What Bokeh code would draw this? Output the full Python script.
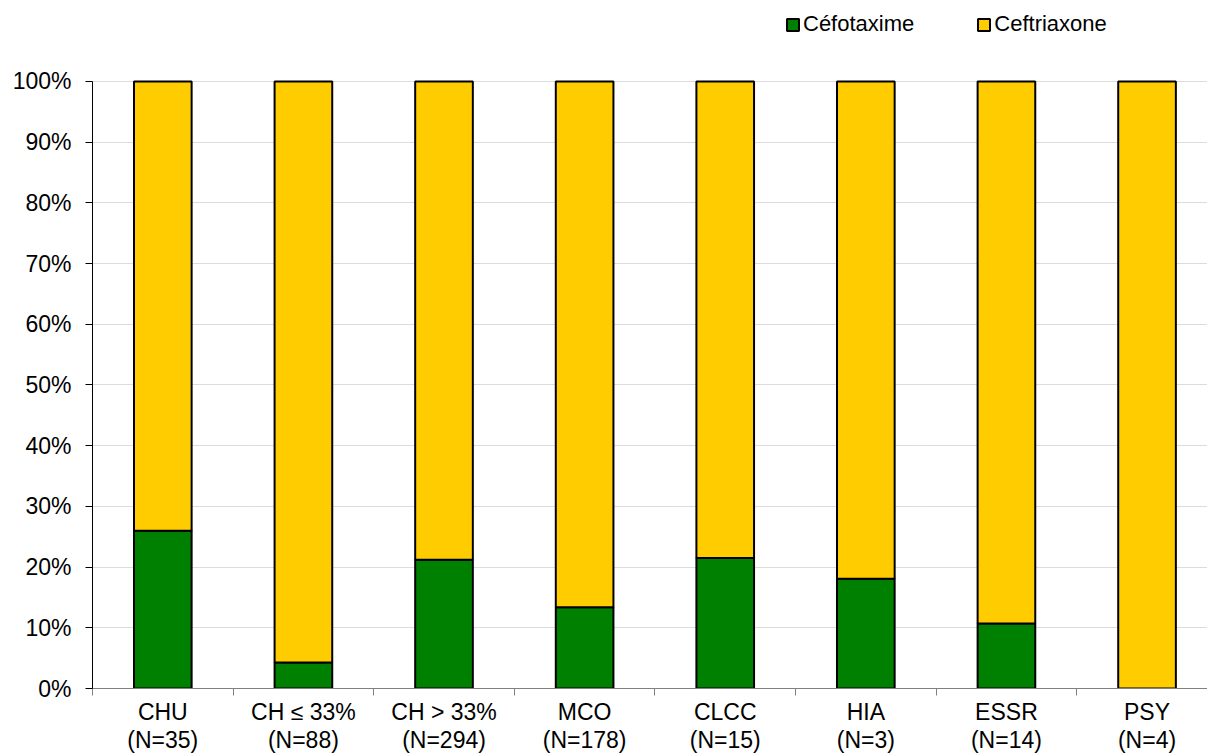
from bokeh.plotting import figure
from bokeh.models import ColumnDataSource, Range1d, FixedTicker, Legend, LegendItem
from bokeh.embed import file_html
from bokeh.resources import INLINE

# ---- data ----
categories = ["CHU", "CH ≤ 33%", "CH > 33%", "MCO", "CLCC", "HIA", "ESSR", "PSY"]
n_values = [35, 88, 294, 178, 15, 3, 14, 4]
cefotaxime = [26.0, 4.3, 21.2, 13.4, 21.5, 18.1, 10.7, 0.0]
ceftriaxone = [74.0, 95.7, 78.8, 86.6, 78.5, 81.9, 89.3, 100.0]
y_ticks = [0, 10, 20, 30, 40, 50, 60, 70, 80, 90, 100]
series_names = ["Céfotaxime", "Ceftriaxone"]
series_colors = ["#008000", "#FFCC00"]

x_pos = list(range(1, len(categories) + 1))
labels = [f"{c}\n(N={n})" for c, n in zip(categories, n_values)]
boundaries = [x - 0.5 for x in x_pos]

src = ColumnDataSource(dict(x=x_pos, cefotaxime=cefotaxime, ceftriaxone=ceftriaxone))

FONT = "Liberation Sans"

# frame spans the full height above the x axis; 100% is placed 81px from the top
p = figure(width=1207, height=756, output_backend="svg", toolbar_location=None,
           x_range=Range1d(0.5, 8.43), y_range=Range1d(0, 113.34),
           min_border_left=92, min_border_right=0, min_border_top=0, min_border_bottom=68)
p.outline_line_color = None
p.background_fill_color = "white"
p.border_fill_color = "white"

rs = p.vbar_stack(["cefotaxime", "ceftriaxone"], x="x", width=0.41, source=src,
                  fill_color=series_colors, line_color="black", line_width=2)

# x axis
p.xaxis.ticker = FixedTicker(ticks=x_pos, minor_ticks=boundaries)
p.xaxis.major_label_overrides = {x: l for x, l in zip(x_pos, labels)}
p.xaxis.major_tick_line_color = None
p.xaxis.major_tick_out = 7
p.xaxis.major_tick_in = 0
p.xaxis.minor_tick_line_color = "#808080"
p.xaxis.minor_tick_out = 7
p.xaxis.minor_tick_in = 0
p.xaxis.axis_line_color = "#808080"
p.xaxis.major_label_text_font = FONT
p.xaxis.major_label_text_font_size = "23px"
p.xaxis.major_label_text_color = "black"
p.xaxis.major_label_standoff = 3
p.xaxis.major_label_text_line_height = 1.1

# y axis
p.yaxis.ticker = FixedTicker(ticks=y_ticks)
p.yaxis.bounds = (0, 100)
p.yaxis.major_label_overrides = {v: f"{v}%" for v in y_ticks}
p.yaxis.major_tick_out = 7
p.yaxis.major_tick_in = 0
p.yaxis.minor_tick_line_color = None
p.yaxis.axis_line_color = "black"
p.yaxis.major_tick_line_color = "black"
p.yaxis.major_label_text_font = FONT
p.yaxis.major_label_text_font_size = "23px"
p.yaxis.major_label_text_color = "black"
p.yaxis.major_label_standoff = 14

p.xgrid.grid_line_color = None
p.ygrid.grid_line_color = "#B8B8B8"
p.ygrid.grid_line_dash = "1 1"
p.ygrid.grid_line_width = 1

legend = Legend(items=[LegendItem(label=series_names[0], renderers=[rs[0]]),
                       LegendItem(label=series_names[1], renderers=[rs[1]])],
                location=(693, 651), orientation="horizontal",
                glyph_width=15, glyph_height=15, label_standoff=3, spacing=62,
                label_height=26,
                padding=0, margin=0, border_line_color=None, background_fill_alpha=0,
                label_text_font=FONT, label_text_font_size="22px",
                label_text_color="black")
p.add_layout(legend)

open("out.html", "w").write(file_html(p, INLINE, title="chart"))
